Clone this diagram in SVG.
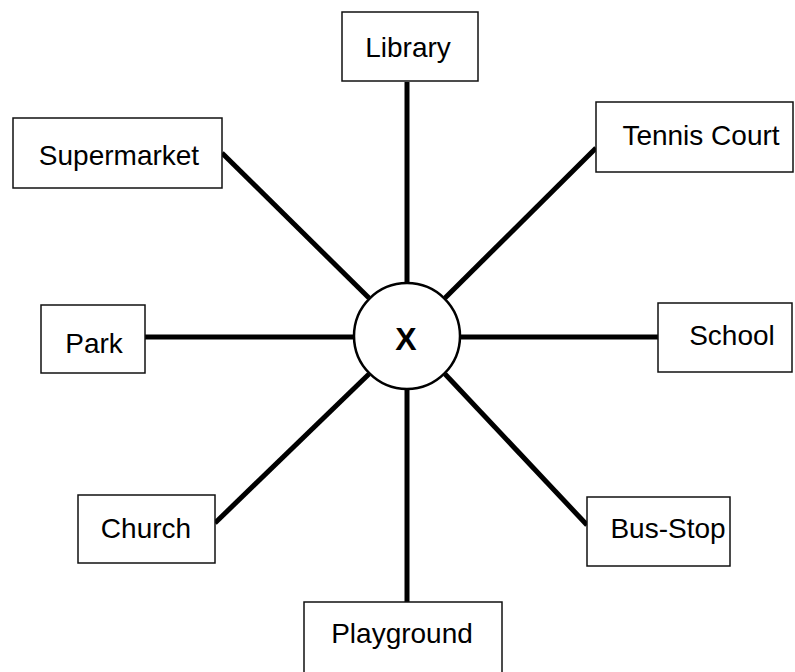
<svg xmlns="http://www.w3.org/2000/svg" width="795" height="672" viewBox="0 0 795 672">
<style>
.box{fill:#fff;stroke:#111;stroke-width:1.5}
.lbl{font-family:"Liberation Sans",Arial,sans-serif;font-size:28px;fill:#000;text-anchor:middle}
.con{stroke:#000;stroke-width:5;stroke-linecap:butt}
</style>
<rect width="795" height="672" fill="#fff"/>
<g id="connectors">
<line class="con" x1="407" y1="82" x2="407" y2="283"/>
<line class="con" x1="222" y1="153" x2="369" y2="298"/>
<line class="con" x1="596" y1="148" x2="445" y2="298"/>
<line class="con" x1="145" y1="337" x2="354" y2="337"/>
<line class="con" x1="460" y1="337" x2="658" y2="337"/>
<line class="con" x1="215" y1="523" x2="369" y2="374"/>
<line class="con" x1="587" y1="525" x2="445" y2="374"/>
<line class="con" x1="407" y1="389" x2="407" y2="602"/>
</g>
<g id="center">
<circle cx="407" cy="336" r="53" fill="#fff" stroke="#000" stroke-width="2.5"/>
<text x="406" y="350" font-family="Liberation Sans,Arial,sans-serif" font-size="32" font-weight="bold" text-anchor="middle">X</text>
</g>
<g id="library"><rect class="box" x="342" y="12" width="136" height="69"/><text class="lbl" x="408" y="57">Library</text></g>
<g id="supermarket"><rect class="box" x="13" y="118" width="209" height="70"/><text class="lbl" x="119" y="165">Supermarket</text></g>
<g id="tennis-court"><rect class="box" x="596" y="102" width="197" height="70"/><text class="lbl" x="701" y="145">Tennis Court</text></g>
<g id="park"><rect class="box" x="41" y="305" width="104" height="68"/><text class="lbl" x="94" y="353">Park</text></g>
<g id="school"><rect class="box" x="658" y="303" width="134" height="69"/><text class="lbl" x="732" y="345">School</text></g>
<g id="church"><rect class="box" x="78" y="495" width="137" height="68"/><text class="lbl" x="146" y="538">Church</text></g>
<g id="bus-stop"><rect class="box" x="587" y="497" width="143" height="69"/><text class="lbl" x="668" y="538">Bus-Stop</text></g>
<g id="playground"><rect class="box" x="304" y="602" width="198" height="72"/><text class="lbl" x="402" y="643">Playground</text></g>
</svg>
